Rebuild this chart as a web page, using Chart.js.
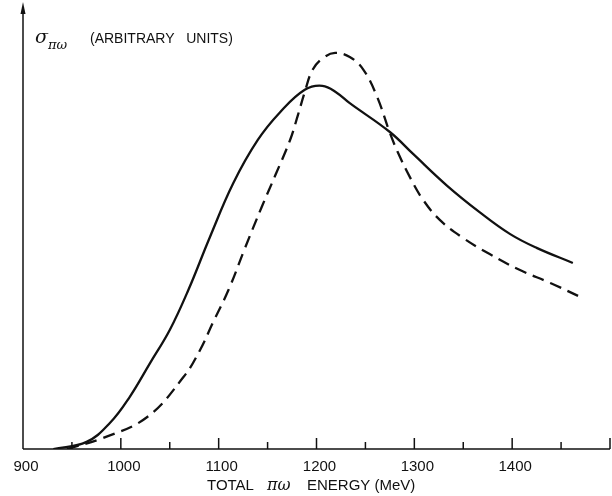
<!DOCTYPE html>
<html>
<head>
<meta charset="utf-8">
<script src="https://cdn.jsdelivr.net/npm/chart.js@4.4.1/dist/chart.umd.min.js"></script>
<style>
  html, body { margin: 0; padding: 0; background: #fff; }
  #wrap { width: 612px; height: 496px; }
</style>
</head>
<body>
<div id="wrap"><canvas id="sigmaChart" width="612" height="496"></canvas></div>
<script>
// curve data (arbitrary units, 0..100)
const solidEnergy = [931, 965, 989, 1009, 1030, 1050, 1069, 1091, 1115, 1140, 1163, 1188, 1206, 1221, 1234, 1275, 1299, 1333, 1367, 1398, 1425, 1462];
const solidSigma  = [0, 1.6, 5.9, 11.7, 19.4, 26.8, 35.8, 47.7, 59.9, 69.6, 75.9, 80.9, 81.8, 80.2, 77.9, 71.4, 66.4, 59.4, 53.3, 48.4, 45.3, 41.9];

const dashedEnergy = [945, 982, 1027, 1064, 1081, 1094, 1110, 1127, 1144, 1158, 1173, 1181, 1188, 1196, 1207, 1219, 1234, 1248, 1262, 1275, 1283, 1296, 1309, 1326, 1350, 1377, 1408, 1439, 1472];
const dashedSigma  = [0, 2.5, 7.2, 16.2, 22.3, 28.4, 35.8, 45.3, 54.5, 61.7, 69.6, 75.2, 80.4, 85.4, 88.1, 89.2, 88.3, 85.4, 79.3, 71.2, 66.9, 61.0, 56.1, 51.6, 47.5, 43.9, 40.3, 37.4, 34.0];

const tickValues = [900, 1000, 1100, 1200, 1300, 1400];

const toPoints = (xs, ys) => xs.map((x, i) => ({ x: x, y: ys[i] }));

// axis lines, inward ticks, tick labels, arrow, axis titles
const decor = {
  id: 'decor',
  afterDraw(chart) {
    const ctx = chart.ctx;
    const area = chart.chartArea;
    const xs = chart.scales.x;
    ctx.save();
    ctx.strokeStyle = '#111';
    ctx.fillStyle = '#111';
    ctx.lineWidth = 1.5;

    // x axis
    ctx.beginPath();
    ctx.moveTo(area.left, area.bottom);
    ctx.lineTo(xs.getPixelForValue(1500), area.bottom);
    ctx.stroke();

    // y axis with arrow
    ctx.beginPath();
    ctx.moveTo(area.left, area.bottom);
    ctx.lineTo(area.left, area.top + 6);
    ctx.stroke();
    ctx.beginPath();
    ctx.moveTo(area.left, area.top - 3);
    ctx.lineTo(area.left - 2.5, area.top + 9);
    ctx.lineTo(area.left + 2.5, area.top + 9);
    ctx.closePath();
    ctx.fill();

    // ticks pointing up into the plot
    for (let v = 950; v <= 1500; v += 50) {
      const px = xs.getPixelForValue(v);
      const len = v % 100 === 0 ? 11 : 7;
      ctx.beginPath();
      ctx.moveTo(px, area.bottom);
      ctx.lineTo(px, area.bottom - len);
      ctx.stroke();
    }

    // tick labels
    ctx.textBaseline = 'alphabetic';
    ctx.textAlign = 'center';
    ctx.font = '15px "Liberation Sans"';
    tickValues.forEach(v => {
      ctx.fillText(String(v), xs.getPixelForValue(v) + 3, area.bottom + 22);
    });

    // y label
    ctx.textAlign = 'left';
    ctx.font = 'italic 19px "DejaVu Serif"';
    ctx.fillText('σ', 35, 43);
    ctx.font = 'italic 13px "DejaVu Serif"';
    ctx.fillText('πω', 48, 49);
    ctx.font = '14px "Liberation Sans"';
    ctx.fillText('(ARBITRARY   UNITS)', 90, 43);

    // x title
    ctx.font = '15px "Liberation Sans"';
    ctx.fillText('TOTAL', 207, 490);
    ctx.font = 'italic 16px "DejaVu Serif"';
    ctx.fillText('πω', 267, 490);
    ctx.font = '15px "Liberation Sans"';
    ctx.fillText('ENERGY (MeV)', 307, 490);
    ctx.restore();
  }
};

new Chart(document.getElementById('sigmaChart'), {
  type: 'scatter',
  data: {
    datasets: [
      {
        label: 'solid',
        data: toPoints(solidEnergy, solidSigma),
        showLine: true,
        borderColor: '#111',
        borderWidth: 2.3,
        pointRadius: 0,
        tension: 0.4,
        fill: false
      },
      {
        label: 'dashed',
        data: toPoints(dashedEnergy, dashedSigma),
        showLine: true,
        borderColor: '#111',
        borderWidth: 2.3,
        borderDash: [12, 7],
        pointRadius: 0,
        tension: 0.4,
        fill: false
      }
    ]
  },
  options: {
    responsive: false,
    animation: false,
    layout: { padding: { left: 23, right: 2, top: 5, bottom: 47 } },
    plugins: {
      legend: { display: false },
      tooltip: { enabled: false }
    },
    scales: {
      x: {
        type: 'linear',
        min: 900,
        max: 1500,
        display: false
      },
      y: {
        display: false,
        min: 0,
        max: 100
      }
    }
  },
  plugins: [decor]
});
</script>
</body>
</html>
